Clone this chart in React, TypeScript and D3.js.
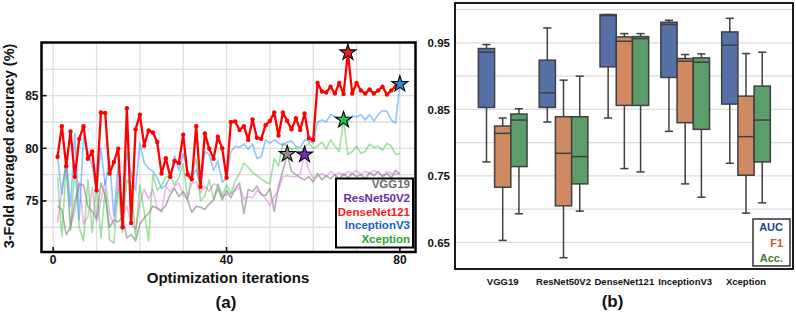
import React from 'react';
import * as d3 from 'd3';

// ---------- Panel (a) data ----------
const iterations = d3.range(1, 81);
const denseNet121 = [79.2, 82.1, 78.3, 81.6, 77.3, 80.9, 82.1, 79.0, 79.7, 76.0, 83.4, 83.35, 77.6, 78.7, 79.97, 72.5, 83.8, 72.9, 81.8, 83.2,
  80.25, 81.7, 81.5, 80.6, 77.6, 79.05, 77.3, 78.8, 78.6, 81.3, 77.5, 77.05, 82.1, 76.35, 81.4, 79.97, 79.0, 81.1, 80.0, 77.2,
  82.5, 82.55, 81.75, 82.1, 80.8, 82.75, 81.0, 80.9, 82.2, 82.6, 83.4, 81.2, 83.4, 82.6, 81.8, 82.85, 81.75, 83.3, 80.95, 80.8,
  86.2, 85.4, 85.3, 85.85, 85.2, 86.2, 85.15, 89.1, 85.2, 86.2, 85.5, 85.2, 85.6, 85.2, 85.5, 85.85, 85.1, 85.5, 85.85, 86.0];
const inceptionV3 = [79.2, 75.6, 79.0, 74.5, 81.4, 73.2, 81.1, 79.7, 78.3, 76.0, 80.0, 76.5, 79.0, 73.5, 78.5, 72.8, 79.6, 77.5, 76.0, 80.5,
  78.6, 78.1, 77.8, 77.2, 76.2, 76.5, 77.3, 79.3, 77.9, 79.5, 77.9, 77.3, 78.0, 76.5, 79.7, 79.4, 77.9, 78.8, 76.8, 77.1,
  79.7, 80.2, 80.1, 80.4, 79.9, 80.4, 79.05, 79.2, 80.8, 80.5, 80.8, 80.5, 80.3, 80.6, 80.7, 80.2, 80.0, 80.8, 80.7, 80.5,
  82.5, 82.7, 82.5, 83.2, 83.0, 82.7, 82.9, 82.5, 83.1, 83.0, 83.2, 82.7, 83.2, 82.6, 83.2, 83.6, 83.5, 82.7, 82.4, 86.1];
const xception = [77.3, 71.6, 78.4, 72.2, 78.2, 72.5, 71.2, 77.0, 72.0, 76.8, 71.5, 76.2, 71.3, 71.0, 76.2, 72.0, 77.0, 76.5, 71.5, 76.5,
  74.0, 71.2, 77.5, 76.0, 76.5, 77.3, 77.3, 76.5, 77.2, 78.5, 75.2, 77.6, 79.0, 75.0, 75.5, 77.0, 75.2, 76.6, 75.5, 76.5,
  75.7, 76.9, 77.6, 78.6, 78.2, 77.7, 77.4, 77.1, 76.8, 76.6, 79.05, 78.3, 80.5, 80.2, 79.9, 80.0, 79.6, 80.1, 80.5, 80.0,
  80.2, 80.6, 79.9, 80.8, 80.2, 79.7, 82.7, 79.4, 79.7, 80.2, 79.5, 79.7, 80.4, 80.1, 80.2, 79.8, 80.5, 80.2, 79.4, 79.5];
const vgg19 = [74.5, 74.2, 71.8, 72.5, 75.0, 76.6, 76.5, 74.5, 74.0, 73.3, 76.7, 75.5, 72.5, 73.2, 73.0, 73.5, 71.5, 71.8, 71.2, 72.8,
  73.4, 73.8, 74.5, 74.3, 74.1, 74.6, 75.6, 76.2, 75.4, 75.9, 75.1, 73.9, 74.5, 74.4, 74.2, 74.7, 75.1, 76.2, 75.1, 76.0,
  75.3, 76.2, 76.7, 73.8, 76.1, 75.9, 76.4, 75.6, 75.5, 76.2, 74.0, 76.4, 77.9, 79.45, 77.8, 77.5, 77.2, 77.0, 77.3, 76.8,
  77.6, 77.0, 77.4, 77.1, 77.5, 77.0, 77.6, 77.2, 77.6, 77.3, 77.5, 77.1, 77.7, 77.4, 77.8, 77.3, 77.6, 77.2, 77.9, 77.5];
const resNet50V2 = [72.9, 76.0, 78.5, 72.6, 74.0, 76.8, 72.8, 73.5, 76.3, 73.0, 75.0, 77.0, 73.8, 72.7, 76.9, 73.5, 74.5, 72.8, 72.3, 74.8,
  76.1, 75.2, 76.1, 74.3, 73.9, 76.4, 75.9, 76.4, 76.7, 75.5, 75.2, 76.7, 76.8, 75.8, 76.4, 75.9, 76.6, 76.5, 75.4, 75.6,
  75.7, 76.0, 76.3, 75.2, 75.4, 75.3, 76.0, 75.7, 75.2, 74.6, 75.4, 76.1, 77.3, 77.4, 77.3, 77.3, 77.6, 79.4, 77.9, 77.2,
  77.3, 77.6, 77.3, 77.8, 77.5, 77.7, 77.4, 77.8, 77.6, 77.9, 77.5, 77.8, 77.6, 77.9, 77.7, 77.4, 77.8, 77.6, 77.5, 77.7];

const modelNames = ['VGG19', 'ResNet50V2', 'DenseNet121', 'InceptionV3', 'Xception'];
const bestIters = [54, 58, 68, 80, 67];
const bestValues = [79.45, 79.4, 89.1, 86.1, 82.7];
const xTicksA = [0, 40, 80];
const yTicksA = [75, 80, 85];

// ---------- Panel (b) data: [low whisker, q1, median, q3, high whisker] ----------
const aucStats = [
  [0.771, 0.853, 0.936, 0.9415, 0.9475],
  [0.831, 0.853, 0.875, 0.924, 0.9725],
  [0.837, 0.914, 0.991, 0.9926, 0.9926],
  [0.817, 0.898, 0.9776, 0.981, 0.984],
  [0.769, 0.858, 0.9465, 0.9665, 0.987],
];
const f1Stats = [
  [0.653, 0.733, 0.814, 0.825, 0.837],
  [0.627, 0.705, 0.784, 0.839, 0.894],
  [0.761, 0.856, 0.9525, 0.959, 0.964],
  [0.738, 0.830, 0.9225, 0.9265, 0.9325],
  [0.694, 0.751, 0.809, 0.870, 0.934],
];
const accStats = [
  [0.693, 0.764, 0.834, 0.843, 0.851],
  [0.697, 0.738, 0.779, 0.839, 0.900],
  [0.756, 0.856, 0.9565, 0.9595, 0.964],
  [0.718, 0.820, 0.921, 0.9275, 0.9335],
  [0.7095, 0.771, 0.834, 0.885, 0.936],
];
const metricNames = ['AUC', 'F1', 'Acc.'];
const yTicksB = [0.65, 0.75, 0.85, 0.95];
const yGridB = [0.65, 0.7, 0.75, 0.8, 0.85, 0.9, 0.95, 1.0];

const FONT = '"Liberation Sans", Arial, Helvetica, sans-serif';

const lineColors: Record<string, string> = {
  VGG19: '#6f6f6f',
  ResNet50V2: '#e070e0',
  DenseNet121: '#ff0000',
  InceptionV3: '#1e90ff',
  Xception: '#2cbf2c',
};
const starColors = ['#8c8c8c', '#7a2fc0', '#ee1c24', '#2a8ae0', '#1ec84a'];
const legendColorsA = ['#6e6e6e', '#6a2ca0', '#ff1a1a', '#1660c8', '#1fa82a'];
const boxColors = ['#5571a8', '#cf8a62', '#5d9d6c'];
const legendColorsB = ['#1f3d96', '#d9521c', '#3c7d24'];

export default function App() {
  // ----- panel a scales -----
  const xA = d3.scaleLinear().domain([-2.7, 83.6]).range([41.5, 415.5]);
  const yA = d3.scaleLinear().domain([70.15, 90.05]).range([252, 42.5]);
  const line = d3.line<number>().x((_, i) => xA(iterations[i])).y((d) => yA(d));

  const faint = [
    { name: 'VGG19', data: vgg19, op: 0.55 },
    { name: 'ResNet50V2', data: resNet50V2, op: 0.5 },
    { name: 'Xception', data: xception, op: 0.45 },
    { name: 'InceptionV3', data: inceptionV3, op: 0.5 },
  ];

  const star = d3.symbol().type(d3.symbolStar).size(80)()!;

  // ----- panel b scales -----
  const xB = d3.scalePoint<string>().domain(modelNames).range([502.7, 746]);
  const step = xB.step();
  const yB = d3.scaleLinear().domain([0.61, 1.01]).range([269, 3]);
  const boxW = (step * 0.8) / 3;
  const allStats = [aucStats, f1Stats, accStats];

  return (
    <svg width={796} height={312} style={{ position: 'absolute', left: 0, top: 0, background: '#fff' }} fontFamily={FONT}>
      <rect x={0} y={0} width={796} height={312} fill="#fff" />
      {/* ================= Panel (a) ================= */}
      <g>
        {d3.range(0, 81, 10).map((t) => (
          <line key={'gx' + t} x1={xA(t)} x2={xA(t)} y1={42.5} y2={252} stroke="#dedede" strokeWidth={1.3} />
        ))}
        {d3.range(72.5, 90, 2.5).map((t) => (
          <line key={'gy' + t} x1={41.5} x2={415.5} y1={yA(t)} y2={yA(t)} stroke="#dedede" strokeWidth={1.3} />
        ))}
        {faint.map((s) => (
          <path key={s.name} d={line(s.data)!} fill="none" stroke={lineColors[s.name]} strokeOpacity={s.op} strokeWidth={1.6} strokeLinejoin="round" />
        ))}
        <path d={line(denseNet121)!} fill="none" stroke="#ff0000" strokeWidth={2.3} strokeLinejoin="round" />
        {denseNet121.map((v, i) => (
          <circle key={'m' + i} cx={xA(iterations[i])} cy={yA(v)} r={2.2} fill="#ff0000" />
        ))}
        {bestIters.map((it, k) => (
          <path key={'s' + k} d={star} transform={`translate(${xA(it)},${yA(bestValues[k])})`} fill={starColors[k]} stroke="#000" strokeWidth={1.1} />
        ))}
        {/* ticks (inward) */}
        {yTicksA.map((t) => (
          <g key={'yt' + t}>
            <line x1={41.5} x2={46.5} y1={yA(t)} y2={yA(t)} stroke="#000" strokeWidth={1.5} />
            <text x={38.5} y={yA(t) + 4.3} textAnchor="end" fontSize={12} fontWeight="bold" fill="#111">{t}</text>
          </g>
        ))}
        {xTicksA.map((t) => (
          <g key={'xt' + t}>
            <line x1={xA(t)} x2={xA(t)} y1={252} y2={247} stroke="#000" strokeWidth={1.5} />
            <text x={xA(t)} y={264} textAnchor="middle" fontSize={12} fontWeight="bold" fill="#111">{t}</text>
          </g>
        ))}
        {/* legend */}
        <rect x={336} y={178.5} width={77} height={69} fill="#fff" stroke="#000" strokeWidth={2} />
        {modelNames.map((n, k) => (
          <text key={'la' + n} x={410} y={188 + k * 13.8} textAnchor="end" fontSize={11.5} fontWeight="bold" fill={legendColorsA[k]}>{n}</text>
        ))}
        <rect x={41.5} y={42.5} width={374} height={209.5} fill="none" stroke="#000" strokeWidth={2.5} />
        <text transform="translate(14,146) rotate(-90)" textAnchor="middle" fontSize={14.5} fontWeight="bold" fill="#111">3-Fold averaged accuracy (%)</text>
        <text x={228} y={283} textAnchor="middle" fontSize={15} fontWeight="bold" fill="#111">Optimization iterations</text>
        <text x={226} y={308} textAnchor="middle" fontSize={17} fontWeight="bold" fill="#111">(a)</text>
      </g>

      {/* ================= Panel (b) ================= */}
      <g>
        {yGridB.map((t) => (
          <line key={'gb' + t} x1={455} x2={793} y1={yB(t)} y2={yB(t)} stroke="#dcdcdc" strokeWidth={1.3} />
        ))}
        {modelNames.map((m, gi) => {
          const cx = xB(m)!;
          return (
            <g key={'grp' + m}>
              {allStats.map((stats, mi) => {
                const [lo, q1, med, q3, hi] = stats[gi];
                const x0 = cx - (1.5 * boxW) + mi * boxW;
                const xc = x0 + boxW / 2;
                return (
                  <g key={'b' + mi}>
                    <line x1={xc} x2={xc} y1={yB(q3)} y2={yB(hi)} stroke="#3f3f3f" strokeWidth={1.5} />
                    <line x1={xc} x2={xc} y1={yB(q1)} y2={yB(lo)} stroke="#3f3f3f" strokeWidth={1.5} />
                    <line x1={xc - boxW / 4} x2={xc + boxW / 4} y1={yB(hi)} y2={yB(hi)} stroke="#3f3f3f" strokeWidth={1.5} />
                    <line x1={xc - boxW / 4} x2={xc + boxW / 4} y1={yB(lo)} y2={yB(lo)} stroke="#3f3f3f" strokeWidth={1.5} />
                    <rect x={x0} y={yB(q3)} width={boxW} height={yB(q1) - yB(q3)} fill={boxColors[mi]} stroke="#3f3f3f" strokeWidth={1.5} />
                    <line x1={x0} x2={x0 + boxW} y1={yB(med)} y2={yB(med)} stroke="#3f3f3f" strokeWidth={1.5} />
                  </g>
                );
              })}
              <text x={cx} y={284.5} textAnchor="middle" fontSize={9.5} fontWeight="bold" fill="#111">{m}</text>
            </g>
          );
        })}
        {yTicksB.map((t) => (
          <text key={'ytb' + t} x={450} y={yB(t) + 4.2} textAnchor="end" fontSize={11.5} fontWeight="bold" fill="#111">{t.toFixed(2)}</text>
        ))}
        <rect x={753} y={219} width={37} height={47} fill="#fff" stroke="#333" strokeWidth={1.5} />
        {metricNames.map((n, k) => (
          <text key={'lb' + n} x={783} y={231 + k * 15.5} textAnchor="end" fontSize={11} fontWeight="bold" fill={legendColorsB[k]}>{n}</text>
        ))}
        <rect x={455} y={3} width={338} height={266} fill="none" stroke="#1a1a1a" strokeWidth={2} />
        <text x={612.5} y={307} textAnchor="middle" fontSize={17} fontWeight="bold" fill="#111">(b)</text>
      </g>
    </svg>
  );
}
